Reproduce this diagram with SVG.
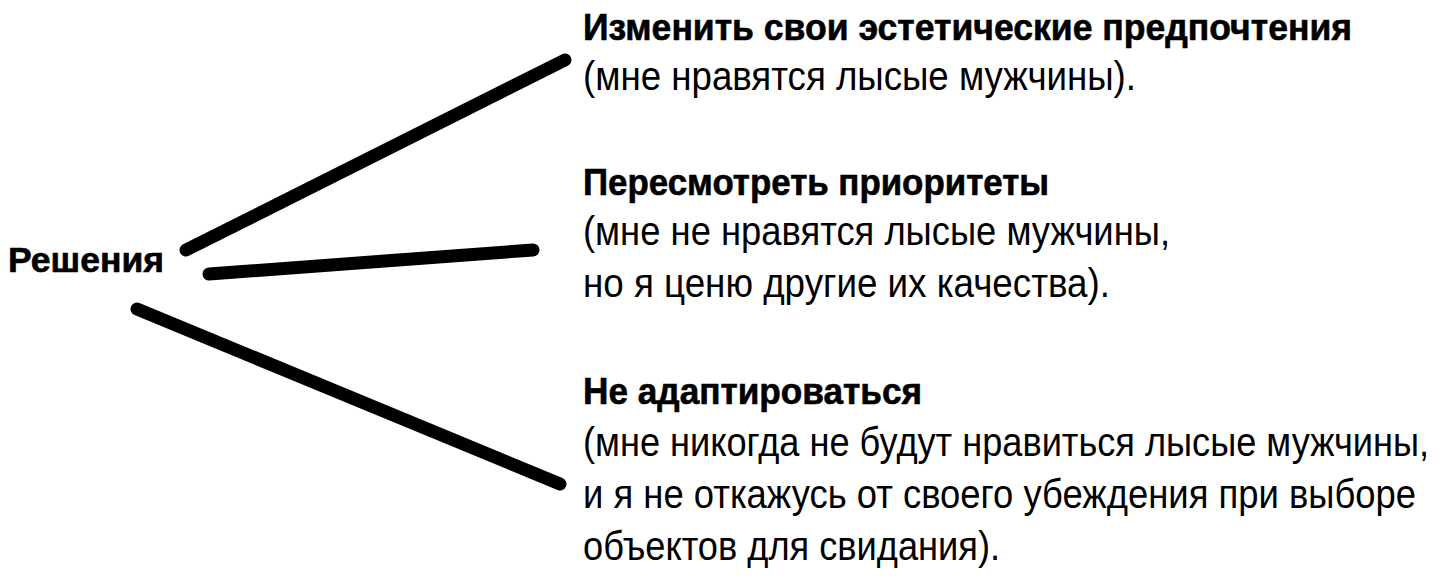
<svg xmlns="http://www.w3.org/2000/svg" width="1440" height="580" viewBox="0 0 1440 580">
<style>
.b{font-family:"Liberation Sans",Arial,sans-serif;font-weight:bold;font-size:37px;fill:#000;stroke:#000;stroke-width:0.6}
.r{font-family:"Liberation Sans",Arial,sans-serif;font-size:40px;fill:#000}
.c{stroke:#000;stroke-width:13;stroke-linecap:round;fill:none}
</style>
<rect width="1440" height="580" fill="#fff"/>
<g id="connectors">
<line class="c" x1="186" y1="250" x2="565" y2="60"/>
<line class="c" x1="209" y1="274" x2="533" y2="250"/>
<line class="c" x1="137" y1="309" x2="560" y2="484"/>
</g>
<g id="root">
<text class="b" x="8" y="272" style="font-size:35px" textLength="156" lengthAdjust="spacingAndGlyphs">Решения</text>
</g>
<g id="option1">
<text class="b" x="583" y="40" textLength="769" lengthAdjust="spacingAndGlyphs">Изменить свои эстетические предпочтения</text>
<text class="r" x="583" y="90" textLength="553" lengthAdjust="spacingAndGlyphs">(мне нравятся лысые мужчины).</text>
</g>
<g id="option2">
<text class="b" x="583" y="195" textLength="466" lengthAdjust="spacingAndGlyphs">Пересмотреть приоритеты</text>
<text class="r" x="583" y="245" textLength="587" lengthAdjust="spacingAndGlyphs">(мне не нравятся лысые мужчины,</text>
<text class="r" x="583" y="297" textLength="527" lengthAdjust="spacingAndGlyphs">но я ценю другие их качества).</text>
</g>
<g id="option3">
<text class="b" x="583" y="404" textLength="339" lengthAdjust="spacingAndGlyphs">Не адаптироваться</text>
<text class="r" x="583" y="456" textLength="846" lengthAdjust="spacingAndGlyphs">(мне никогда не будут нравиться лысые мужчины,</text>
<text class="r" x="583" y="508" textLength="833" lengthAdjust="spacingAndGlyphs">и я не откажусь от своего убеждения при выборе</text>
<text class="r" x="583" y="560" textLength="417" lengthAdjust="spacingAndGlyphs">объектов для свидания).</text>
</g>
</svg>
